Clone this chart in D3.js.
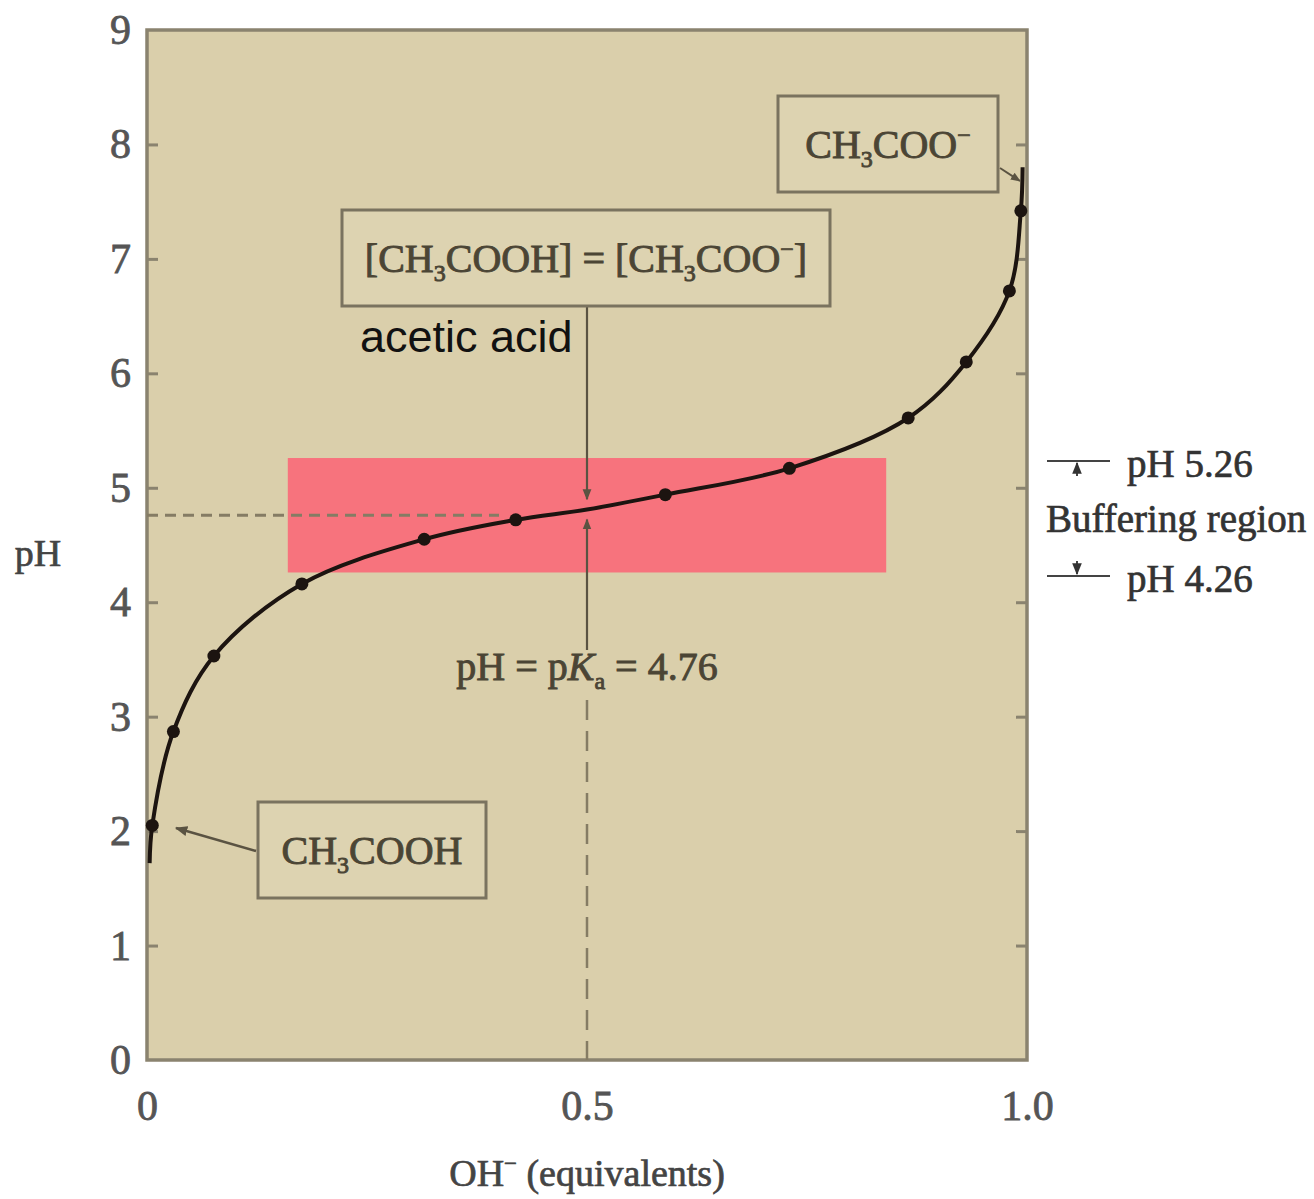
<!DOCTYPE html>
<html>
<head>
<meta charset="utf-8">
<script src="https://cdn.jsdelivr.net/npm/d3@7"></script>
<style>
  body { margin: 0; background: #fff; }
  text { white-space: pre; }
</style>
</head>
<body>
<svg id="svg" width="1314" height="1199"></svg>
<script>
// titration points (OH- equivalents, pH)
const pointX  = [0.006, 0.03, 0.076, 0.176, 0.315, 0.419, 0.589, 0.73, 0.865, 0.931, 0.98, 0.993]
const pointPH = [2.05, 2.87, 3.53, 4.16, 4.55, 4.72, 4.94, 5.17, 5.61, 6.10, 6.72, 7.42]
// the drawn curve (runs a bit past the first and last point)
const curveX  = [0.003, 0.006, 0.03, 0.076, 0.176, 0.315, 0.419, 0.5, 0.589, 0.73, 0.865, 0.931, 0.98, 0.993, 0.995]
const curvePH = [1.72, 2.05, 2.87, 3.53, 4.16, 4.55, 4.72, 4.81, 4.94, 5.17, 5.61, 6.10, 6.72, 7.42, 7.80]
const yTicks = [0, 1, 2, 3, 4, 5, 6, 7, 8, 9]
const xTicks = [0, 0.5, 1]
const xTickLabels = ['0', '0.5', '1.0']
const bufferPH = [4.26, 5.26]
const bufferX = [0.16, 0.84]
const pKa = 4.76

const $svg = d3.select('#svg')
const serif = 'Liberation Serif, Times New Roman, serif'
const ink = '#4b4535'
const frame = '#8a836f'

const x = d3.scaleLinear().domain([0, 1]).range([147, 1027])
const y = d3.scaleLinear().domain([0, 9]).range([1060, 30])

const defs = $svg.append('defs')
const marker = (id, color, size) => defs.append('marker')
	.attr('id', id)
	.attr('viewBox', '0 0 10 10')
	.attr('refX', 9).attr('refY', 5)
	.attr('markerWidth', size).attr('markerHeight', size)
	.attr('markerUnits', 'strokeWidth')
	.attr('orient', 'auto')
  .append('path')
	.attr('d', 'M0,1 L10,5 L0,9 Z')
	.attr('fill', color)
marker('arr', '#5a5342', 5)
marker('arrDark', '#333', 6)

// plot background
$svg.append('rect')
	.attr('x', x(0)).attr('y', y(9))
	.attr('width', x(1) - x(0)).attr('height', y(0) - y(9))
	.attr('fill', '#dacfab')

// buffering region
$svg.append('rect')
	.attr('x', x(bufferX[0])).attr('y', y(bufferPH[1]))
	.attr('width', x(bufferX[1]) - x(bufferX[0]))
	.attr('height', y(bufferPH[0]) - y(bufferPH[1]))
	.attr('fill', '#f7737d')

// axes
const yAxis = $svg.append('g')
	.attr('transform', `translate(${x(0)},0)`)
	.call(d3.axisLeft(y).tickValues(yTicks).tickSize(-11).tickPadding(16).tickFormat(d3.format('d')))
yAxis.select('.domain').remove()
yAxis.selectAll('line').attr('stroke', frame).attr('stroke-width', 3)
	.filter(d => d === 0 || d === 9).remove()
yAxis.selectAll('text').attr('font-family', serif).attr('font-size', 42)
	.attr('fill', '#555').attr('stroke', '#555').attr('stroke-width', 0.8)

const yAxisR = $svg.append('g')
	.attr('transform', `translate(${x(1)},0)`)
	.call(d3.axisRight(y).tickValues(yTicks.slice(1, -1)).tickSize(-11).tickFormat(''))
yAxisR.select('.domain').remove()
yAxisR.selectAll('line').attr('stroke', frame).attr('stroke-width', 3)

const xAxis = $svg.append('g')
	.attr('transform', `translate(0,${y(0)})`)
	.call(d3.axisBottom(x).tickValues(xTicks).tickSize(0).tickPadding(30)
		.tickFormat((d, i) => xTickLabels[i]))
xAxis.select('.domain').remove()
xAxis.selectAll('text').attr('font-family', serif).attr('font-size', 42)
	.attr('fill', '#555').attr('stroke', '#555').attr('stroke-width', 0.8)

// frame
$svg.append('rect')
	.attr('x', x(0)).attr('y', y(9))
	.attr('width', x(1) - x(0)).attr('height', y(0) - y(9))
	.attr('fill', 'none').attr('stroke', frame).attr('stroke-width', 3.5)

// pKa guides
$svg.append('line')
	.attr('x1', x(0)).attr('x2', x(0.4))
	.attr('y1', y(pKa)).attr('y2', y(pKa))
	.attr('stroke', '#857c64').attr('stroke-width', 3)
	.attr('stroke-dasharray', '11 7')
$svg.append('line')
	.attr('x1', x(0.5)).attr('x2', x(0.5))
	.attr('y1', 700).attr('y2', y(0))
	.attr('stroke', '#857c64').attr('stroke-width', 2.5)
	.attr('stroke-dasharray', '20 11')
$svg.append('line')
	.attr('x1', x(0.5)).attr('x2', x(0.5))
	.attr('y1', 306).attr('y2', y(4.83) - 8)
	.attr('stroke', '#5a5342').attr('stroke-width', 2.2)
	.attr('marker-end', 'url(#arr)')
$svg.append('line')
	.attr('x1', x(0.5)).attr('x2', x(0.5))
	.attr('y1', 650).attr('y2', y(4.81) + 10)
	.attr('stroke', '#5a5342').attr('stroke-width', 2.2)
	.attr('marker-end', 'url(#arr)')

// titration curve
const line = d3.line()
	.x(d => x(d[0]))
	.y(d => y(d[1]))
	.curve(d3.curveCatmullRom.alpha(0.5))
$svg.append('path')
	.attr('d', line(curveX.map((v, i) => [v, curvePH[i]])))
	.attr('fill', 'none')
	.attr('stroke', '#1c1410')
	.attr('stroke-width', 4)

$svg.append('g').selectAll('circle')
	.data(pointX.map((v, i) => [v, pointPH[i]]))
	.join('circle')
	.attr('cx', d => x(d[0]))
	.attr('cy', d => y(d[1]))
	.attr('r', 6.5)
	.attr('fill', '#1c1410')

// text with sub / superscripts
const rich = (sel, parts) => {
	let shift = 0
	parts.forEach(p => {
		const target = p.sub ? 9 : p.sup ? -15 : 0
		const ts = sel.append('tspan').attr('dy', target - shift).text(p.t)
		if (p.sub || p.sup) ts.attr('font-size', '0.6em')
		if (p.it) ts.attr('font-style', 'italic')
		shift = target
	})
	return sel
}

const box = (x0, y0, w, h, parts) => {
	$svg.append('rect')
		.attr('x', x0).attr('y', y0).attr('width', w).attr('height', h)
		.attr('fill', '#ddd3b1').attr('stroke', '#7a735f').attr('stroke-width', 3)
	rich($svg.append('text')
		.attr('x', x0 + w / 2).attr('y', y0 + h / 2 + 14)
		.attr('text-anchor', 'middle')
		.attr('font-family', serif).attr('font-size', 40)
		.attr('fill', ink).attr('stroke', ink).attr('stroke-width', 0.9), parts)
}

box(778, 96, 220, 96, [{ t: 'CH' }, { t: '3', sub: true }, { t: 'COO' }, { t: '−', sup: true }])
box(342, 210, 488, 96, [
	{ t: '[CH' }, { t: '3', sub: true }, { t: 'COOH] = [CH' }, { t: '3', sub: true },
	{ t: 'COO' }, { t: '−', sup: true }, { t: ']' }])
box(258, 802, 228, 96, [{ t: 'CH' }, { t: '3', sub: true }, { t: 'COOH' }])

// box arrows
$svg.append('line')
	.attr('x1', 1000).attr('y1', 168).attr('x2', x(0.992)).attr('y2', 181)
	.attr('stroke', '#5a5342').attr('stroke-width', 2).attr('marker-end', 'url(#arr)')
$svg.append('line')
	.attr('x1', 256).attr('y1', 851).attr('x2', x(0.033)).attr('y2', 828)
	.attr('stroke', '#5a5342').attr('stroke-width', 2.5).attr('marker-end', 'url(#arr)')

$svg.append('text')
	.attr('x', 360).attr('y', 352)
	.attr('font-family', 'Liberation Sans, Arial, sans-serif')
	.attr('font-size', 45)
	.attr('fill', '#111')
	.text('acetic acid')

rich($svg.append('text')
	.attr('x', x(0.5)).attr('y', 680)
	.attr('text-anchor', 'middle')
	.attr('font-family', serif).attr('font-size', 40)
	.attr('fill', ink).attr('stroke', ink).attr('stroke-width', 0.9),
	[{ t: 'pH = p' }, { t: 'K', it: true }, { t: 'a', sub: true }, { t: ' = 4.76' }])

// axis titles
$svg.append('text')
	.attr('x', 38).attr('y', 566)
	.attr('text-anchor', 'middle')
	.attr('font-family', serif).attr('font-size', 38)
	.attr('fill', '#444').attr('stroke', '#444').attr('stroke-width', 0.7)
	.text('pH')
rich($svg.append('text')
	.attr('x', x(0.5)).attr('y', 1186)
	.attr('text-anchor', 'middle')
	.attr('font-family', serif).attr('font-size', 38)
	.attr('fill', '#444').attr('stroke', '#444').attr('stroke-width', 0.7),
	[{ t: 'OH' }, { t: '−', sup: true }, { t: ' (equivalents)' }])

// buffering region annotation
const note = $svg.append('g').attr('font-family', serif).attr('font-size', 39)
	.attr('fill', '#333')
note.append('text').attr('x', 1127).attr('y', 477).text('pH 5.26')
note.append('text').attr('x', 1046).attr('y', 532).text('Buffering region')
note.append('text').attr('x', 1127).attr('y', 592).text('pH 4.26')
note.selectAll('text').attr('stroke', '#333').attr('stroke-width', 0.7)
note.append('line').attr('x1', 1047).attr('x2', 1110).attr('y1', 461).attr('y2', 461)
	.attr('stroke', '#444').attr('stroke-width', 2)
note.append('line').attr('x1', 1077).attr('x2', 1077).attr('y1', 476).attr('y2', 463)
	.attr('stroke', '#444').attr('stroke-width', 2).attr('marker-end', 'url(#arrDark)')
note.append('line').attr('x1', 1047).attr('x2', 1110).attr('y1', 576).attr('y2', 576)
	.attr('stroke', '#444').attr('stroke-width', 2)
note.append('line').attr('x1', 1077).attr('x2', 1077).attr('y1', 561).attr('y2', 574)
	.attr('stroke', '#444').attr('stroke-width', 2).attr('marker-end', 'url(#arrDark)')
</script>
</body>
</html>
